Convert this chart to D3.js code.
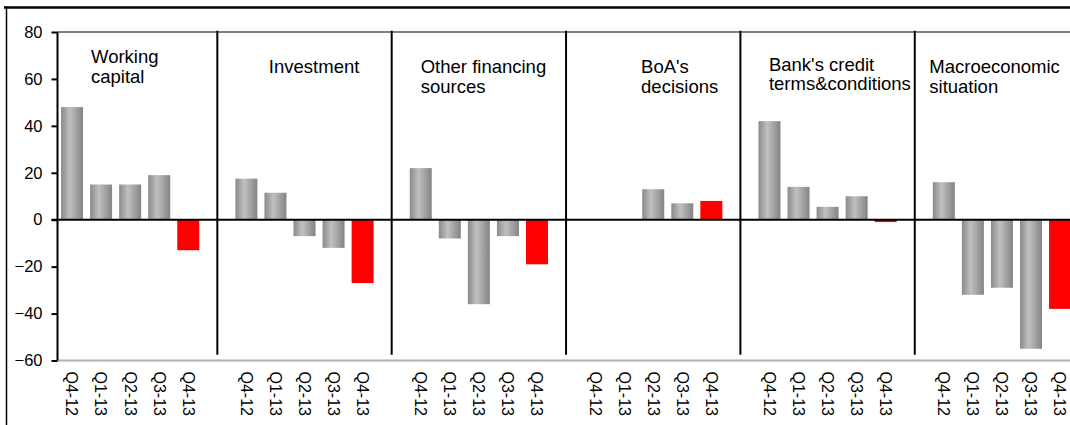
<!DOCTYPE html>
<html>
<head>
<meta charset="utf-8">
<script src="https://cdn.jsdelivr.net/npm/d3@7"></script>
<style>
  html, body { margin: 0; padding: 0; background: #fff; }
  svg { display: block; font-family: "Liberation Sans", Arial, sans-serif; }
</style>
</head>
<body>
<svg id="chart" width="1070" height="425"></svg>
<script>
// Factor groups (panel captions, one entry per line of text)
const groupLines = [
  ["Working", "capital"],
  ["Investment"],
  ["Other financing", "sources"],
  ["BoA's", "decisions"],
  ["Bank's credit", "terms&conditions"],
  ["Macroeconomic", "situation"]
];

// Quarters shown in each panel
const quarters = ["Q4-12", "Q1-13", "Q2-13", "Q3-13", "Q4-13"];

// Net balances per factor (null = no reading)
const workingCapital = [48, 15, 15, 19, -13];
const investment     = [17.5, 11.5, -7, -12, -27];
const otherFinancing = [22, -8, -36, -7, -19];
const boaDecisions   = [null, null, 13, 7, 8];
const bankTerms      = [42, 14, 5.5, 10, -1];
const macroSituation = [16, -32, -29, -55, -38];

const seriesByGroup = [workingCapital, investment, otherFinancing, boaDecisions, bankTerms, macroSituation];

// Value axis ticks
const yTicks = [-60, -40, -20, 0, 20, 40, 60, 80];

// ---- layout ----
const svg = d3.select("#chart");
const W = 1070, H = 425;
const font = "Liberation Sans, Arial, sans-serif";

// each panel = five quarters plus one empty spacer slot
const slots = [];
groupLines.forEach((g, gi) => {
  quarters.forEach(q => slots.push(gi + "|" + q));
  slots.push(gi + "|gap");
});

const x = d3.scaleBand()
  .domain(slots)
  .range([57.5, 57.5 + 36 * 29.06])
  .paddingInner(0.243)
  .paddingOuter(0.1215);

const y = d3.scaleLinear().domain([-60, 80]).range([360.5, 32]);

// gradient for the grey cylinders
const defs = svg.append("defs");
const grad = defs.append("linearGradient").attr("id", "greyBar")
  .attr("x1", "0%").attr("x2", "100%").attr("y1", "0%").attr("y2", "0%");
grad.append("stop").attr("offset", "0%").attr("stop-color", "#8a8a8a");
grad.append("stop").attr("offset", "40%").attr("stop-color", "#c0c0c0");
grad.append("stop").attr("offset", "100%").attr("stop-color", "#848484");

// outer frame (top and left edges)
svg.append("line").attr("x1", 4).attr("x2", W).attr("y1", 7.5).attr("y2", 7.5)
  .attr("stroke", "#000").attr("stroke-width", 2.5);
svg.append("line").attr("x1", 6.5).attr("x2", 6.5).attr("y1", 6.5).attr("y2", H)
  .attr("stroke", "#000").attr("stroke-width", 1.5);

const x0 = x.range()[0];

// top and bottom boundary lines of the plot
svg.append("line").attr("x1", x0).attr("x2", W).attr("y1", y(80)).attr("y2", y(80))
  .attr("stroke", "#808080").attr("stroke-width", 2);
svg.append("line").attr("x1", x0).attr("x2", W).attr("y1", y(-60)).attr("y2", y(-60))
  .attr("stroke", "#b0b0b0").attr("stroke-width", 2);

// bars
const barData = [];
seriesByGroup.forEach((vals, gi) => {
  vals.forEach((v, qi) => {
    if (v !== null) barData.push({ key: gi + "|" + quarters[qi], v, latest: qi === quarters.length - 1 });
  });
});

svg.append("g").selectAll("rect").data(barData).join("rect")
  .attr("x", d => x(d.key))
  .attr("width", x.bandwidth())
  .attr("y", d => y(Math.max(0, d.v)))
  .attr("height", d => Math.abs(y(d.v) - y(0)))
  .attr("fill", d => d.latest ? "#ff0000" : "url(#greyBar)");

// panel separators in the middle of the spacer slots
const sepKeys = slots.filter(s => s.endsWith("|gap")).slice(0, groupLines.length - 1);
svg.append("g").selectAll("line").data(sepKeys).join("line")
  .attr("x1", d => x(d) + x.bandwidth() / 2)
  .attr("x2", d => x(d) + x.bandwidth() / 2)
  .attr("y1", y(80.5)).attr("y2", y(-57.5))
  .attr("stroke", "#000").attr("stroke-width", 2);

// zero line
svg.append("line").attr("x1", x0 - 6).attr("x2", W).attr("y1", y(0)).attr("y2", y(0))
  .attr("stroke", "#000").attr("stroke-width", 2);

// value axis
const yAxis = svg.append("g")
  .attr("transform", `translate(${x0},0)`)
  .call(d3.axisLeft(y).tickValues(yTicks).tickSize(6).tickPadding(9).tickFormat(d3.format("d")));
yAxis.select(".domain").remove();
yAxis.selectAll(".tick line").attr("stroke", "#000").attr("stroke-width", 2);
yAxis.selectAll("text").attr("font-family", font).attr("font-size", 16.5).attr("fill", "#000");
svg.append("line").attr("x1", x0).attr("x2", x0).attr("y1", y(80)).attr("y2", y(-60))
  .attr("stroke", "#000").attr("stroke-width", 2);

// category axis (vertical quarter labels)
const xAxis = svg.append("g")
  .attr("transform", `translate(0,${y(-60)})`)
  .call(d3.axisBottom(x).tickSize(0).tickFormat(d => {
    const q = d.split("|")[1];
    return q === "gap" ? "" : q;
  }));
xAxis.select(".domain").remove();
xAxis.selectAll("text")
  .attr("font-family", font).attr("font-size", 16).attr("fill", "#000")
  .attr("text-anchor", "start")
  .attr("transform", "rotate(90)")
  .attr("x", 11).attr("y", 0).attr("dy", "0.35em");

// panel captions, placed relative to the first slot of each panel
const captionLayout = [
  { dx: 33.5, y: 63 },
  { dx: 37, y: 73 },
  { dx: 14.5, y: 73 },
  { dx: 60.5, y: 73 },
  { dx: 14, y: 70.5 },
  { dx: 0, y: 73 }
];
groupLines.forEach((lines, gi) => {
  const first = x(gi + "|" + quarters[0]) - (x.step() - x.bandwidth()) / 2;
  const t = svg.append("text")
    .attr("font-family", font).attr("font-size", 18.5).attr("fill", "#000")
    .attr("x", first + captionLayout[gi].dx).attr("y", captionLayout[gi].y);
  lines.forEach((ln, li) => {
    t.append("tspan").attr("x", first + captionLayout[gi].dx)
      .attr("dy", li === 0 ? 0 : 19.5).text(ln);
  });
});
</script>
</body>
</html>
